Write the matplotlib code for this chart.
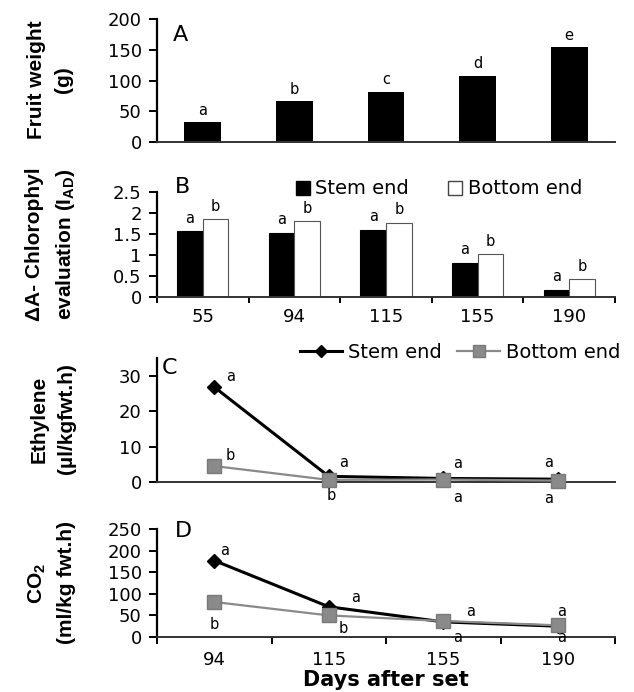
import numpy as np
import matplotlib
matplotlib.use('Agg')
import matplotlib.pyplot as plt
from matplotlib.lines import Line2D

plt.rcParams['font.family'] = ['DejaVu Sans']
plt.rcParams['mathtext.default'] = 'regular'

# Data
days_bars = ['55', '94', '115', '155', '190']
fruit_weight = [33, 67, 82, 108, 155]
fruit_letters = ['a', 'b', 'c', 'd', 'e']

chl_stem = [1.57, 1.53, 1.60, 0.82, 0.17]
chl_bottom = [1.85, 1.80, 1.77, 1.02, 0.42]
chl_stem_letters = ['a', 'a', 'a', 'a', 'a']
chl_bottom_letters = ['b', 'b', 'b', 'b', 'b']

days_lines = ['94', '115', '155', '190']
eth_stem = [26.8, 1.6, 1.0, 0.8]
eth_bottom = [4.5, 0.6, 0.7, 0.4]
eth_stem_letters = ['a', 'a', 'a', 'a']
eth_bottom_letters = ['b', 'b', 'a', 'a']

co2_stem = [177, 70, 35, 25]
co2_bottom = [81, 50, 37, 27]
co2_stem_letters = ['a', 'a', 'a', 'a']
co2_bottom_letters = ['b', 'b', 'a', 'a']

# label offsets in pixels (dx, dy), dy positive = up
eth_stem_off = [(16, 11), (15, 14), (14, 15), (-9, 17)]
eth_bottom_off = [(16, 11), (2, -16), (14, -18), (-9, -18)]
co2_stem_off = [(10, 10), (27, 9), (27, 10), (4, 15)]
co2_bottom_off = [(0, -22), (14, -13), (14, -16), (4, -12)]

W, H = 634, 692
fig = plt.figure(figsize=(W / 100, H / 100), dpi=100)

def box(top, bottom, left=157, right=615):
    return [left / W, 1 - bottom / H, (right - left) / W, (bottom - top) / H]

gray = '#8a8a8a'
px = 72 / 100  # pixels -> points
tick_fs = 13
let_fs = 10.5

def style(ax):
    for s in ['top', 'right']:
        ax.spines[s].set_visible(False)
    ax.spines['left'].set_linewidth(1.6)
    ax.spines['bottom'].set_linewidth(1.4)
    ax.spines['bottom'].set_color('#333333')
    ax.tick_params(axis='y', direction='out', length=6, width=1.4, labelsize=tick_fs, pad=5)

# ---- A ----
axA = fig.add_axes(box(19, 142))
x5 = np.arange(len(days_bars))
axA.bar(x5, fruit_weight, width=0.4, color='black')
for i, v in enumerate(fruit_weight):
    axA.annotate(fruit_letters[i], (x5[i], v), xytext=(0, 3), textcoords='offset points',
                 ha='center', va='bottom', fontsize=let_fs)
axA.set_xlim(-0.5, 4.5)
axA.set_ylim(0, 200)
axA.set_yticks([0, 50, 100, 150, 200])
axA.set_xticks([])
style(axA)
axA.text(0.035, 0.87, 'A', transform=axA.transAxes, fontsize=16, va='center')

# ---- B ----
axB = fig.add_axes(box(192, 297))
bw = 0.28
axB.bar(x5 - bw / 2, chl_stem, width=bw, color='black', edgecolor='black', linewidth=0.8)
axB.bar(x5 + bw / 2, chl_bottom, width=bw, color='white', edgecolor='#555555', linewidth=0.8)
for i in range(len(x5)):
    axB.annotate(chl_stem_letters[i], (x5[i] - bw / 2, chl_stem[i]), xytext=(0, 4),
                 textcoords='offset points', ha='center', va='bottom', fontsize=let_fs)
    axB.annotate(chl_bottom_letters[i], (x5[i] + bw / 2, chl_bottom[i]), xytext=(0, 4),
                 textcoords='offset points', ha='center', va='bottom', fontsize=let_fs)
axB.set_xlim(-0.5, 4.5)
axB.set_ylim(0, 2.5)
axB.set_yticks([0, 0.5, 1, 1.5, 2, 2.5])
axB.set_yticklabels(['0', '0.5', '1', '1.5', '2', '2.5'])
axB.set_xticks(x5)
axB.set_xticklabels(days_bars, fontsize=tick_fs)
axB.set_xticks(np.arange(-0.5, 5, 1), minor=True)
axB.tick_params(axis='x', which='major', length=0, pad=8)
axB.tick_params(axis='x', which='minor', length=4, width=1.4, direction='out')
style(axB)
axB.text(0.04, 1.05, 'B', transform=axB.transAxes, fontsize=16, va='center')
hB = [Line2D([], [], marker='s', ls='none', color='black', markersize=10),
      Line2D([], [], marker='s', ls='none', markerfacecolor='white', markeredgecolor='#444444',
             markersize=10)]
fig.legend(hB, ['Stem end', 'Bottom end'], loc='center', bbox_to_anchor=(439 / W, 1 - 189 / H),
           ncol=2, frameon=False, fontsize=14, handlelength=0.7, handletextpad=0.3,
           columnspacing=2.0, borderpad=0)

# ---- lines helper ----
x4 = np.arange(len(days_lines))

def draw_lines(ax, stem, bottom, sl, bl, so, bo):
    ax.plot(x4, bottom, color=gray, lw=1.6, marker='s', markersize=10,
            markerfacecolor=gray, markeredgecolor='#7a7a7a', zorder=3)
    ax.plot(x4, stem, color='black', lw=2.2, marker='D', markersize=7, zorder=2)
    for i in range(len(x4)):
        ax.annotate(sl[i], (x4[i], stem[i]), xytext=(so[i][0] * px, so[i][1] * px),
                    textcoords='offset points', ha='center', va='center', fontsize=let_fs)
        ax.annotate(bl[i], (x4[i], bottom[i]), xytext=(bo[i][0] * px, bo[i][1] * px),
                    textcoords='offset points', ha='center', va='center', fontsize=let_fs)

# ---- C ----
axC = fig.add_axes(box(358, 482))
draw_lines(axC, eth_stem, eth_bottom, eth_stem_letters, eth_bottom_letters,
           eth_stem_off, eth_bottom_off)
axC.set_xlim(-0.5, 3.5)
axC.set_ylim(0, 35)
axC.set_yticks([0, 10, 20, 30])
axC.set_xticks([])
style(axC)
for l in axC.lines:
    l.set_clip_on(False)
axC.text(0.01, 0.92, 'C', transform=axC.transAxes, fontsize=16, va='center')
hC = [Line2D([], [], color='black', lw=2.2, marker='D', markersize=6),
      Line2D([], [], color=gray, lw=1.6, marker='s', markersize=8, markeredgecolor='#7a7a7a')]
fig.legend(hC, ['Stem end', 'Bottom end'], loc='center', bbox_to_anchor=(460 / W, 1 - 352 / H),
           ncol=2, frameon=False, fontsize=14, handlelength=2.2, handletextpad=0.3,
           columnspacing=0.8, borderpad=0)

# ---- D ----
axD = fig.add_axes(box(529, 637))
draw_lines(axD, co2_stem, co2_bottom, co2_stem_letters, co2_bottom_letters,
           co2_stem_off, co2_bottom_off)
for t in axD.texts:
    t.set_clip_on(False)
axD.set_xlim(-0.5, 3.5)
axD.set_ylim(0, 250)
axD.set_yticks([0, 50, 100, 150, 200, 250])
axD.set_xticks(x4)
axD.set_xticklabels(days_lines, fontsize=tick_fs)
axD.set_xticks(np.arange(-0.5, 4, 1), minor=True)
axD.tick_params(axis='x', which='major', length=0, pad=10)
axD.tick_params(axis='x', which='minor', length=5, width=1.4, direction='out')
style(axD)
axD.text(0.04, 0.98, 'D', transform=axD.transAxes, fontsize=16, va='center')
axD.set_xlabel('Days after set', fontsize=15, fontweight='bold', labelpad=1)

# ---- y labels ----
ylab = dict(rotation=90, ha='center', va='center', fontsize=15, fontweight='bold',
            family='Liberation Sans', linespacing=1.6)
fig.text(50 / W, 1 - 80 / H, 'Fruit weight\n(g)', **ylab)
fig.text(51 / W, 1 - 244 / H, '\u0394A- Chlorophyl\nevaluation (I$_{AD}$)', **ylab)
fig.text(53 / W, 1 - 419 / H, 'Ethylene\n(\u00b5l/kgfwt.h)', **ylab)
fig.text(51 / W, 1 - 583 / H, 'CO$_2$\n(ml/kg fwt.h)', **ylab)

fig.savefig('out.png', dpi=100)
